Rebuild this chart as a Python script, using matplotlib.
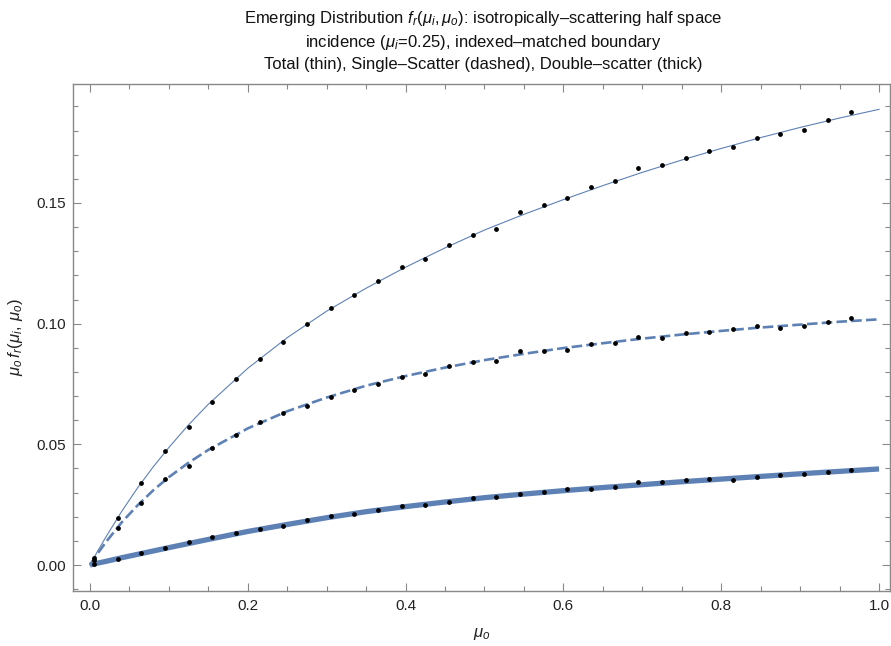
import matplotlib
matplotlib.use("Agg")
import matplotlib.pyplot as plt
from matplotlib.ticker import MultipleLocator

plt.rcParams['font.family'] = ['Liberation Sans', 'DejaVu Sans']
plt.rcParams['mathtext.fontset'] = 'custom'
plt.rcParams['mathtext.rm'] = 'Liberation Sans'
plt.rcParams['mathtext.it'] = 'Liberation Sans:italic'
plt.rcParams['mathtext.bf'] = 'Liberation Sans:bold'

# ---- curve data ----
mu_curve = [0.0, 0.01, 0.02, 0.04, 0.06, 0.08, 0.10, 0.125, 0.15, 0.20, 0.25, 0.30,
            0.35, 0.40, 0.45, 0.50, 0.55, 0.60, 0.65, 0.70, 0.75, 0.80, 0.85, 0.90,
            0.95, 1.00]
total_curve = [0.0, 0.0059, 0.0115, 0.0221, 0.0318, 0.0406, 0.0487, 0.0581, 0.0666,
               0.0815, 0.0942, 0.1052, 0.1147, 0.1234, 0.1314, 0.1388, 0.1453, 0.1514,
               0.1572, 0.1627, 0.1678, 0.1726, 0.1771, 0.1813, 0.1852, 0.1888]
single_curve = [0.0, 0.0049, 0.0094, 0.0176, 0.0246, 0.0309, 0.0364, 0.0424, 0.0477,
                0.0566, 0.0637, 0.0694, 0.0743, 0.0783, 0.0818, 0.0849, 0.0875, 0.0899,
                0.0919, 0.0938, 0.0955, 0.0970, 0.0984, 0.0996, 0.1008, 0.1018]
double_curve = [0.0, 0.0008, 0.0015, 0.0030, 0.0044, 0.0058, 0.0072, 0.0089, 0.0106,
                0.0139, 0.0168, 0.0196, 0.0221, 0.0242, 0.0261, 0.0279, 0.0294, 0.0308,
                0.0321, 0.0333, 0.0345, 0.0356, 0.0367, 0.0378, 0.0388, 0.0398]

# ---- sampled points (black dots) ----
mu_pts = [0.005, 0.035, 0.065, 0.095, 0.125, 0.155, 0.185, 0.215, 0.245, 0.275, 0.305,
          0.335, 0.365, 0.395, 0.425, 0.455, 0.485, 0.515, 0.545, 0.575, 0.605, 0.635,
          0.665, 0.695, 0.725, 0.755, 0.785, 0.815, 0.845, 0.875, 0.905, 0.935, 0.965]
total_pts = [0.0028, 0.0195, 0.0338, 0.0471, 0.0572, 0.0677, 0.0771, 0.0855, 0.0924,
             0.0997, 0.1066, 0.1118, 0.1175, 0.1236, 0.1267, 0.1326, 0.1369, 0.1394,
             0.1464, 0.1493, 0.1522, 0.1565, 0.1593, 0.1647, 0.1656, 0.1688, 0.1716,
             0.1734, 0.1768, 0.1785, 0.1802, 0.1843, 0.1876]
single_pts = [0.0022, 0.0153, 0.0257, 0.0358, 0.0409, 0.0483, 0.0540, 0.0594, 0.0631,
              0.0659, 0.0698, 0.0727, 0.0751, 0.0779, 0.0793, 0.0823, 0.0840, 0.0844,
              0.0887, 0.0888, 0.0892, 0.0916, 0.0921, 0.0943, 0.0940, 0.0963, 0.0964,
              0.0978, 0.0989, 0.0983, 0.0992, 0.1008, 0.1022]
double_pts = [0.0003, 0.0026, 0.0050, 0.0069, 0.0094, 0.0115, 0.0134, 0.0150, 0.0163,
              0.0188, 0.0202, 0.0212, 0.0229, 0.0243, 0.0247, 0.0261, 0.0278, 0.0283,
              0.0295, 0.0304, 0.0316, 0.0316, 0.0324, 0.0343, 0.0343, 0.0351, 0.0355,
              0.0353, 0.0366, 0.0372, 0.0378, 0.0387, 0.0394]

x_ticks = [0.0, 0.2, 0.4, 0.6, 0.8, 1.0]
x_labels = ["0.0", "0.2", "0.4", "0.6", "0.8", "1.0"]
y_ticks = [0.00, 0.05, 0.10, 0.15]
y_labels = ["0.00", "0.05", "0.10", "0.15"]

blue = "#5E81B5"
frame_col = "#888888"

fig = plt.figure(figsize=(8.91, 6.46), dpi=100)
ax = fig.add_axes([73 / 891, 1 - 591 / 646, (890 - 73) / 891, (591 - 84) / 646])

ax.plot(mu_curve, double_curve, color=blue, lw=3.8, solid_capstyle='butt', zorder=2)
ax.plot(mu_curve, single_curve, color=blue, lw=1.9, dashes=(4.0, 1.6), zorder=2)
ax.plot(mu_curve, total_curve, color=blue, lw=0.8, zorder=2)

for pts in (total_pts, single_pts, double_pts):
    ax.scatter(mu_pts, pts, s=12, color='black', zorder=3, linewidths=0)

ax.set_xlim(-0.0215, 1.0139)
ax.set_ylim(-0.01077, 0.1993)

ax.set_xticks(x_ticks)
ax.set_xticklabels(x_labels)
ax.set_yticks(y_ticks)
ax.set_yticklabels(y_labels)
ax.xaxis.set_minor_locator(MultipleLocator(0.05))
ax.yaxis.set_minor_locator(MultipleLocator(0.01))

ax.tick_params(which='both', direction='in', top=True, right=True, color=frame_col,
               labelsize=11, labelcolor='#222222', width=0.8)
ax.tick_params(which='major', length=6)
ax.tick_params(which='minor', length=3.5)
ax.tick_params(axis='x', pad=6)
ax.tick_params(axis='y', pad=5)
for sp in ax.spines.values():
    sp.set_color(frame_col)
    sp.set_linewidth(1.0)

ax.set_xlabel(r"$\mu_o$", fontsize=12, labelpad=9, color='#222222')
ax.set_ylabel(r"$\mu_o\, f_r(\mu_i,\, \mu_o)$", fontsize=12, labelpad=8, color='#222222')

fig.text(483 / 891, 1 - 19 / 646,
         r"Emerging Distribution $f_r(\mu_i,\mu_o)$: isotropically–scattering half space",
         ha='center', va='center', fontsize=12, color='#111111')
fig.text(483 / 891, 1 - 42 / 646,
         r"incidence ($\mu_i$=0.25), indexed–matched boundary",
         ha='center', va='center', fontsize=12, color='#111111')
fig.text(483 / 891, 1 - 64 / 646,
         "Total (thin), Single–Scatter (dashed), Double–scatter (thick)",
         ha='center', va='center', fontsize=12, color='#111111')

fig.savefig("out.png", dpi=100)
